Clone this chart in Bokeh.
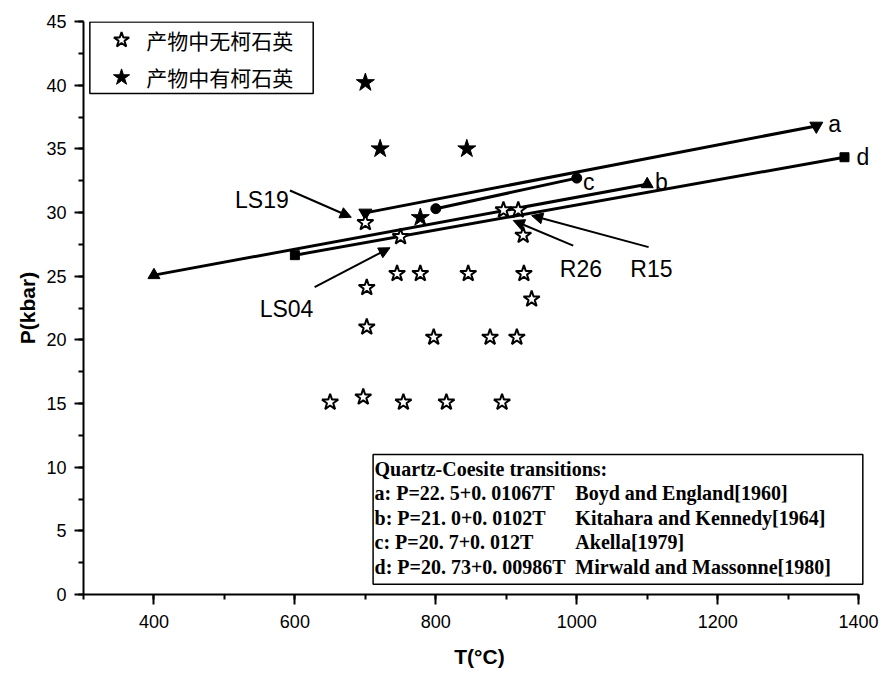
from bokeh.plotting import figure
from bokeh.models import (Range1d, SingleIntervalTicker, Label, Arrow, NormalHead,
                          BoxAnnotation)
from bokeh.embed import file_html
from bokeh.resources import INLINE

# Run products without coesite (open stars)
T_no_coesite = [650, 697, 754, 815, 894, 702, 797, 877, 915, 702,
                745, 778, 846, 925, 936, 924, 700, 750, 896, 917]
P_no_coesite = [15.1, 15.5, 15.1, 15.1, 15.1, 21.0, 20.2, 20.2, 20.2, 24.1,
                25.2, 25.2, 25.2, 25.2, 23.2, 28.2, 29.2, 28.1, 30.2, 30.2]

# Run products with coesite (filled stars)
T_coesite = [700, 721, 844, 778]
P_coesite = [40.2, 35.0, 35.0, 29.6]

# Quartz-coesite transition curves: end points of each segment
curve_names = ["a", "b", "c", "d"]
curve_T = [[700, 1340], [400, 1100], [800, 1000], [600, 1380]]
curve_P = [[29.97, 36.80], [25.08, 32.22], [30.30, 32.70], [26.65, 34.34]]
curve_markers = ["inverted_triangle", "triangle", "circle", "square"]
curve_marker_sizes = [13, 12, 10, 9]

legend_labels = ["产物中无柯石英", "产物中有柯石英"]
box_rows = ["Quartz-Coesite transitions:", "a: P=22. 5+0. 01067T", "b: P=21. 0+0. 0102T",
            "c: P=20. 7+0. 012T", "d: P=20. 73+0. 00986T"]
box_refs = ["", "Boyd and England[1960]", "Kitahara and Kennedy[1964]",
            "Akella[1979]", "Mirwald and Massonne[1980]"]

SANS = "Liberation Sans"
SERIF = "Liberation Serif"

# The frame runs a little past 1400 so the equation box and the "d" tag are not cut;
# the x axis itself stops at 1400.
p = figure(width=885, height=679, output_backend="svg", toolbar_location=None,
           x_range=Range1d(300, 1424), y_range=Range1d(0, 45),
           min_border_left=83, min_border_right=10, min_border_top=21, min_border_bottom=85)
p.outline_line_color = None
p.xgrid.visible = False
p.ygrid.visible = False
p.background_fill_color = "white"
p.border_fill_color = "white"

p.xaxis.ticker = SingleIntervalTicker(interval=200, num_minor_ticks=2)
p.yaxis.ticker = SingleIntervalTicker(interval=5, num_minor_ticks=2)
p.xaxis.bounds = (300, 1400)
for ax in (p.xaxis[0], p.yaxis[0]):
    ax.axis_line_width = 2
    ax.axis_line_color = "black"
    ax.major_tick_line_width = 2
    ax.minor_tick_line_width = 2
    ax.major_tick_in = 0
    ax.minor_tick_in = 0
    ax.major_label_text_font = SANS
    ax.major_label_text_font_size = "18px"
    ax.major_label_text_color = "black"
    ax.axis_label_text_font = SANS
    ax.axis_label_text_font_style = "bold"
    ax.axis_label_text_font_size = "21px"
    ax.axis_label_text_color = "black"
p.xaxis.major_tick_out = 10
p.xaxis.minor_tick_out = 5
p.yaxis.major_tick_out = 9
p.yaxis.minor_tick_out = 5
p.xaxis.major_label_standoff = 10
p.yaxis.major_label_standoff = 8
p.xaxis.axis_label = "T(°C)"
p.yaxis.axis_label = "P(kbar)"
p.xaxis.axis_label_standoff = 14
p.yaxis.axis_label_standoff = 4

# Legend frame and the equation box sit under the marks
p.add_layout(BoxAnnotation(left=309, right=626, bottom=39.35, top=44.97, level="underlay",
                           fill_color="white", fill_alpha=1.0,
                           line_color="black", line_width=1.5, line_alpha=1.0))
p.add_layout(BoxAnnotation(left=711, right=1406, bottom=0.8, top=11.0, level="underlay",
                           fill_color="white", fill_alpha=1.0,
                           line_color="black", line_width=1.5, line_alpha=1.0))

# Transition curves with their end markers
for T, P, m, s in zip(curve_T, curve_P, curve_markers, curve_marker_sizes):
    p.line(T, P, line_color="black", line_width=3)
    p.scatter(T, P, marker=m, size=s, fill_color="black", line_color="black")

# Experimental runs
p.scatter(T_no_coesite, P_no_coesite, marker="star", size=17,
          fill_color="white", line_color="black", line_width=2)
p.scatter(T_coesite, P_coesite, marker="star", size=19,
          fill_color="black", line_color="black", line_width=1)

# Legend entries
legend_rows = [43.55, 40.61]
p.scatter([354], [legend_rows[0]], marker="star", size=16,
          fill_color="white", line_color="black", line_width=2)
p.scatter([354], [legend_rows[1]], marker="star", size=17,
          fill_color="black", line_color="black", line_width=1)
for text, y in zip(legend_labels, legend_rows):
    p.add_layout(Label(x=389, y=y, text=text, text_font="Noto Sans CJK SC",
                       text_font_size="21px", text_color="black", text_baseline="middle"))

# Curve letters
letter_pos = {"a": (1357, 36.96), "b": (1111, 32.38), "c": (1009, 32.38), "d": (1397, 34.34)}
for name in curve_names:
    x, y = letter_pos[name]
    p.add_layout(Label(x=x, y=y, text=name, text_font=SANS, text_font_size="23px",
                       text_color="black", text_baseline="alphabetic"))

# Sample labels with arrows
samples = [("LS19", 515, 31.0, (593, 31.73), (680, 29.63)),
           ("LS04", 550, 22.45, (628, 24.14), (735, 27.23)),
           ("R26", 976, 25.58, (995, 27.4), (910, 29.37)),
           ("R15", 1076, 25.58, (1102, 27.28), (936, 29.76))]
for name, lx, ly, (x0, y0), (x1, y1) in samples:
    p.add_layout(Label(x=lx, y=ly, text=name, text_font=SANS, text_font_size="23px",
                       text_color="black", text_baseline="alphabetic"))
    p.add_layout(Arrow(x_start=x0, y_start=y0, x_end=x1, y_end=y1, line_width=2,
                       line_color="black",
                       end=NormalHead(size=11, fill_color="black", line_color="black")))

# Equations of the transition curves
row_y = [9.84, 7.96, 6.0, 4.12, 2.16]
for text, ref, y in zip(box_rows, box_refs, row_y):
    p.add_layout(Label(x=713, y=y, text=text, text_font=SERIF, text_font_style="bold",
                       text_font_size="20px", text_color="black", text_baseline="middle"))
    if ref:
        p.add_layout(Label(x=998, y=y, text=ref, text_font=SERIF, text_font_style="bold",
                           text_font_size="20px", text_color="black", text_baseline="middle"))

open("out.html", "w").write(file_html(p, INLINE))
